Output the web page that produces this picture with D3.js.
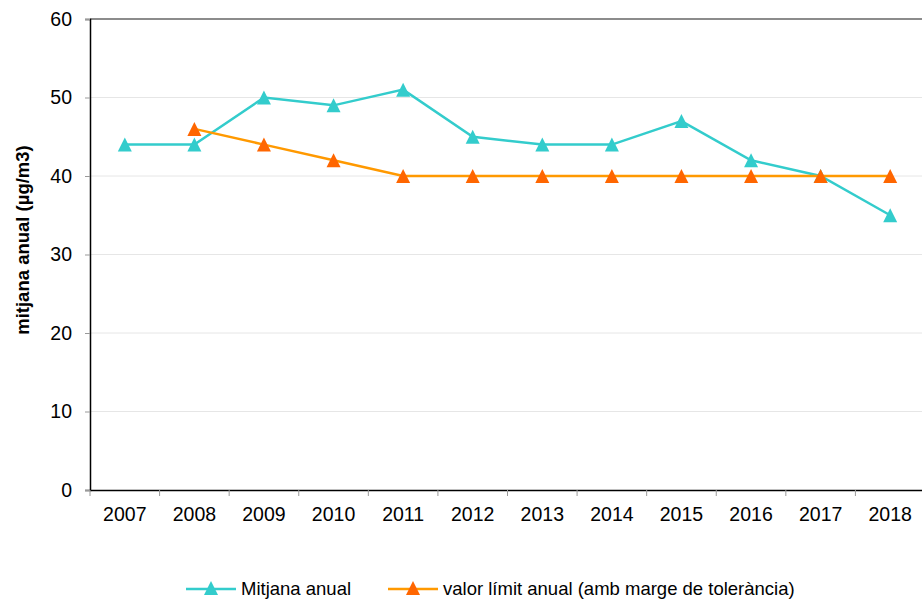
<!DOCTYPE html>
<html>
<head>
<meta charset="utf-8">
<script src="https://cdn.jsdelivr.net/npm/d3@7"></script>
<style>
  body { margin: 0; background: #fff; }
  text { font-family: "Liberation Sans", Arial, sans-serif; }
</style>
</head>
<body>
<svg id="chart" width="922" height="602"></svg>
<script>
const years = ["2007","2008","2009","2010","2011","2012","2013","2014","2015","2016","2017","2018"]
const mitjana = [44, 44, 50, 49, 51, 45, 44, 44, 47, 42, 40, 35]
const limit = [null, 46, 44, 42, 40, 40, 40, 40, 40, 40, 40, 40]
const yTicks = [0, 10, 20, 30, 40, 50, 60]

const svg = d3.select("#chart")
const plotLeft = 90, plotRight = 925, plotTop = 19, plotBottom = 490

const x = d3.scaleBand().domain(years).range([plotLeft, plotRight])
const y = d3.scaleLinear().domain([0, 60]).range([plotBottom, plotTop])

// gridlines
svg.append("g")
    .selectAll("line")
    .data(yTicks.filter(d => d > 0 && d < 60))
    .join("line")
    .attr("x1", plotLeft).attr("x2", 922)
    .attr("y1", d => y(d)).attr("y2", d => y(d))
    .attr("stroke", "#e6e6e6")
    .attr("stroke-width", 1)

// top border
svg.append("line")
    .attr("x1", plotLeft).attr("x2", 922)
    .attr("y1", plotTop).attr("y2", plotTop)
    .attr("stroke", "#8c8c8c")
    .attr("stroke-width", 2)

// y axis
let yAxis = svg.append("g")
    .attr("transform", `translate(${plotLeft},0)`)
    .call(d3.axisLeft(y).tickValues(yTicks).tickSize(5).tickPadding(13))
yAxis.select(".domain").attr("stroke", "#000").attr("stroke-width", 1.5)
yAxis.selectAll(".tick line").attr("stroke", "#999")
yAxis.selectAll("text").attr("font-size", 19.5).attr("fill", "#000")

// x axis
let xAxis = svg.append("g")
    .attr("transform", `translate(0,${plotBottom})`)
    .call(d3.axisBottom(x).tickSize(0).tickPadding(17))
xAxis.select(".domain").attr("stroke", "#000").attr("stroke-width", 1.5)
xAxis.selectAll("text").attr("font-size", 19.5).attr("fill", "#000")

// x boundary ticks
svg.append("g")
    .selectAll("line")
    .data(years)
    .join("line")
    .attr("x1", d => x(d)).attr("x2", d => x(d))
    .attr("y1", plotBottom).attr("y2", plotBottom + 6)
    .attr("stroke", "#999")

// y label
svg.append("text")
    .attr("transform", "translate(29,240) rotate(-90)")
    .attr("text-anchor", "middle")
    .attr("font-size", 18.5)
    .attr("font-weight", "bold")
    .text("mitjana anual (µg/m3)")

const cx = d => x(d) + x.bandwidth() / 2
// excel style triangle, 14px box
const tri = s => `M0,${-s / 2}L${s / 2},${s / 2}L${-s / 2},${s / 2}Z`

function drawSeries(values, lineColor, markColor){
    let pts = years.map((yr, i) => ({yr: yr, v: values[i]})).filter(d => d.v != null)
    svg.append("path")
        .datum(pts)
        .attr("fill", "none")
        .attr("stroke", lineColor)
        .attr("stroke-width", 2.5)
        .attr("d", d3.line().x(d => cx(d.yr)).y(d => y(d.v)))
    svg.append("g")
        .selectAll("path")
        .data(pts)
        .join("path")
        .attr("d", tri(14))
        .attr("fill", markColor)
        .attr("transform", d => `translate(${cx(d.yr)},${y(d.v)})`)
}

drawSeries(mitjana, "#33CCCC", "#33CCCC")
drawSeries(limit, "#FF9900", "#FF6600")

// legend
const legend = [
    {name: "Mitjana anual", line: "#33CCCC", mark: "#33CCCC", x: 186},
    {name: "valor límit anual (amb marge de tolerància)", line: "#FF9900", mark: "#FF6600", x: 388}
]
let lg = svg.append("g").selectAll("g")
    .data(legend)
    .join("g")
    .attr("transform", d => `translate(${d.x},589)`)
lg.append("line")
    .attr("x1", 0).attr("x2", 50)
    .attr("stroke", d => d.line)
    .attr("stroke-width", 2.5)
lg.append("path")
    .attr("d", tri(14))
    .attr("fill", d => d.mark)
    .attr("transform", "translate(25,-1)")
lg.append("text")
    .attr("x", 55)
    .attr("y", 6)
    .attr("font-size", 18.5)
    .text(d => d.name)
</script>
</body>
</html>
